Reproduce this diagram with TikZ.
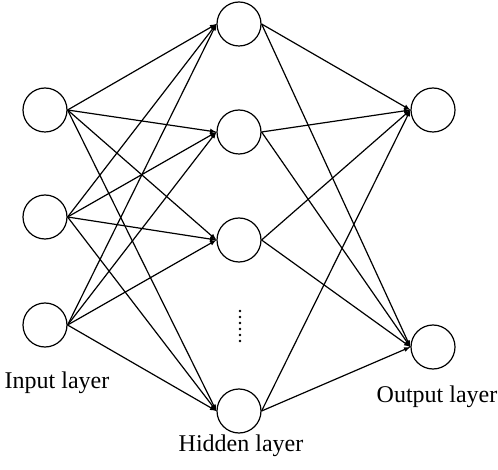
\documentclass[tikz,border=0pt]{standalone}
\usepackage{fontspec}
\setmainfont{Liberation Serif}
\usetikzlibrary{positioning}

\begin{document}
\begin{tikzpicture}[%
>=latex,
x=1pt, y=-1pt,
on grid,
line width=1.2pt,
neuron/.style={circle, draw, minimum size=44pt, inner sep=0pt},
layername/.style={font=\fontsize{24}{28}\selectfont, inner sep=0pt}
]
\useasboundingbox (0,0) rectangle (498,470);
\node[neuron] (i1) at (45,110) {};
\node[neuron] (i2) [below=107pt of i1] {};
\node[neuron] (i3) [below=108pt of i2] {};
\node[neuron] (h1) at (239,24) {};
\node[neuron] (h2) [below=108pt of h1] {};
\node[neuron] (h3) [below=108pt of h2] {};
\node[neuron] (h4) [below=171pt of h3] {};
\node[neuron] (o1) at (433,110) {};
\node[neuron] (o2) [below=237pt of o1] {};
\node[layername] (in) at (57,383) {Input layer};
\node[layername] (hid) at (241,446) {Hidden layer};
\node[layername] (out) at (437,397) {Output layer};
% hidden dots
\foreach \y in {311,317,...,341} \fill (240,\y) circle (1.3pt);
\path[->] (i1.east) edge (h1.west);
\path[->] (i1.east) edge (h2.west);
\path[->] (i1.east) edge (h3.west);
\path[->] (i1.east) edge (h4.west);
\path[->] (i2.east) edge (h1.west);
\path[->] (i2.east) edge (h2.west);
\path[->] (i2.east) edge (h3.west);
\path[->] (i2.east) edge (h4.west);
\path[->] (i3.east) edge (h1.west);
\path[->] (i3.east) edge (h2.west);
\path[->] (i3.east) edge (h3.west);
\path[->] (i3.east) edge (h4.west);
\path[->] (h1.east) edge (o1.west);
\path[->] (h1.east) edge (o2.west);
\path[->] (h2.east) edge (o1.west);
\path[->] (h2.east) edge (o2.west);
\path[->] (h3.east) edge (o1.west);
\path[->] (h3.east) edge (o2.west);
\path[->] (h4.east) edge (o1.west);
\path[->] (h4.east) edge (o2.west);
\end{tikzpicture}
\end{document}
